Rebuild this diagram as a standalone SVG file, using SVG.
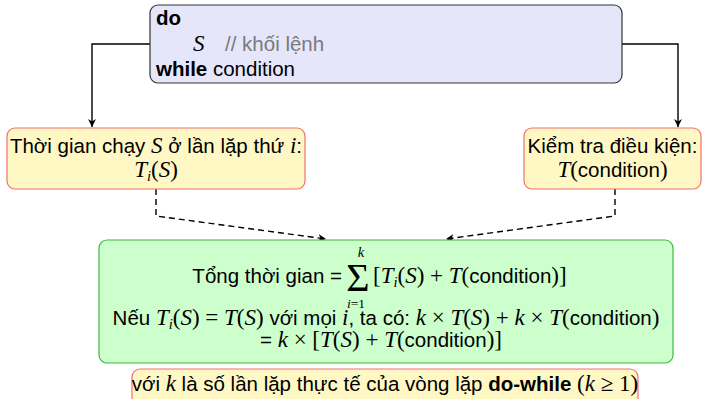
<svg xmlns="http://www.w3.org/2000/svg" width="703" height="399" viewBox="0 0 703 399">
  <style>
    .t { font-family: "Liberation Sans", Arial, sans-serif; font-size: 20.5px; fill: #000; }
    .b { font-weight: bold; }
    .m { font-family: "Liberation Serif", "Times New Roman", serif; font-style: italic; font-size: 23px; }
    .r { font-family: "Liberation Serif", "Times New Roman", serif; font-style: normal; font-size: 23px; }
    .s { font-size: 14.5px; }
    .cm { fill: #7a7a7a; }
    .code { fill: #e6e6fa; stroke: #333; stroke-width: 1.2; }
    .note { fill: #fff8c4; stroke: #f07070; stroke-width: 1.2; }
    .sum { fill: #ccffcc; stroke: #3cb83c; stroke-width: 1.2; }
    .edge { fill: none; stroke: #000; stroke-width: 1.4; }
    .dash { stroke-dasharray: 6 4; }
  </style>
  <defs>
    <marker id="arr" markerUnits="userSpaceOnUse" markerWidth="12" markerHeight="12" viewBox="-10 -6 12 12" refX="0" refY="0" orient="auto">
      <path d="M0,0 L-8,-4 L-5.5,0 L-8,4 Z" fill="#000"/>
    </marker>
  </defs>

  <!-- connectors -->
  <g id="connectors">
    <path class="edge" d="M150,44 H92 V127" marker-end="url(#arr)"/>
    <path class="edge" d="M622,44 H678 V127" marker-end="url(#arr)"/>
    <path class="edge dash" d="M156,189 V216 L326,239" marker-end="url(#arr)"/>
    <path class="edge dash" d="M615,189 V216 L446,239" marker-end="url(#arr)"/>
  </g>

  <!-- do-while code block -->
  <g id="code">
    <rect class="code" x="150" y="5" width="472" height="78" rx="8"/>
    <text class="t" x="156" y="25"><tspan class="b">do</tspan><tspan x="193" y="51" class="m">S</tspan><tspan x="225" y="51" class="cm">// khối lệnh</tspan><tspan x="156" y="76" class="b">while</tspan> condition</text>
  </g>

  <!-- per-iteration body time -->
  <g id="body-time">
    <rect class="note" x="7" y="128" width="298" height="61" rx="8"/>
    <text class="t" text-anchor="middle"><tspan x="156" y="153">Thời gian chạy <tspan class="m">S</tspan> ở lần lặp thứ <tspan class="m">i</tspan>:</tspan><tspan x="156" y="177"><tspan class="m">T</tspan><tspan class="m s" dy="4">i</tspan><tspan class="r" dy="-4">(</tspan><tspan class="m">S</tspan><tspan class="r">)</tspan></tspan></text>
  </g>

  <!-- condition check time -->
  <g id="cond-time">
    <rect class="note" x="524" y="128" width="177" height="61" rx="8"/>
    <text class="t" text-anchor="middle"><tspan x="612.5" y="153">Kiểm tra điều kiện:</tspan><tspan x="612.5" y="177"><tspan class="m">T</tspan><tspan class="r">(</tspan>condition<tspan class="r">)</tspan></tspan></text>
  </g>

  <!-- total time -->
  <g id="total">
    <rect class="sum" x="99" y="240" width="574" height="123" rx="8"/>
    <text class="t" x="342" y="283" text-anchor="end">Tổng thời gian =</text>
    <text class="t" text-anchor="middle"><tspan class="m s" x="361" y="257">k</tspan><tspan class="r" x="358" y="291" style="font-size:40px">Σ</tspan><tspan class="m s" x="356" y="308" style="font-size:13.5px">i</tspan><tspan class="r s" style="font-size:13.5px">=1</tspan></text>
    <text class="t" x="373" y="283"><tspan class="r">[</tspan><tspan class="m">T</tspan><tspan class="m s" dy="4">i</tspan><tspan class="r" dy="-4">(</tspan><tspan class="m">S</tspan><tspan class="r">) + </tspan><tspan class="m">T</tspan><tspan class="r">(</tspan>condition<tspan class="r">)]</tspan></text>
    <text class="t" text-anchor="middle"><tspan x="386" y="325">Nếu <tspan class="m">T</tspan><tspan class="m s" dy="4">i</tspan><tspan class="r" dy="-4">(</tspan><tspan class="m">S</tspan><tspan class="r">) = </tspan><tspan class="m">T</tspan><tspan class="r">(</tspan><tspan class="m">S</tspan><tspan class="r">)</tspan> với mọi <tspan class="m">i</tspan>, ta có: <tspan class="m">k</tspan><tspan class="r"> × </tspan><tspan class="m">T</tspan><tspan class="r">(</tspan><tspan class="m">S</tspan><tspan class="r">) + </tspan><tspan class="m">k</tspan><tspan class="r"> × </tspan><tspan class="m">T</tspan><tspan class="r">(</tspan>condition<tspan class="r">)</tspan></tspan><tspan x="381" y="347">= <tspan class="m">k</tspan><tspan class="r"> × [</tspan><tspan class="m">T</tspan><tspan class="r">(</tspan><tspan class="m">S</tspan><tspan class="r">) + </tspan><tspan class="m">T</tspan><tspan class="r">(</tspan>condition<tspan class="r">)]</tspan></tspan></text>
  </g>

  <!-- iteration count note -->
  <g id="count-note">
    <rect class="note" x="132" y="369" width="506" height="40" rx="8"/>
    <text class="t" x="385" y="391" text-anchor="middle">với <tspan class="m">k</tspan> là số lần lặp thực tế của vòng lặp <tspan class="b">do-while</tspan> <tspan class="r">(</tspan><tspan class="m">k</tspan><tspan class="r"> ≥ 1)</tspan></text>
  </g>
</svg>
